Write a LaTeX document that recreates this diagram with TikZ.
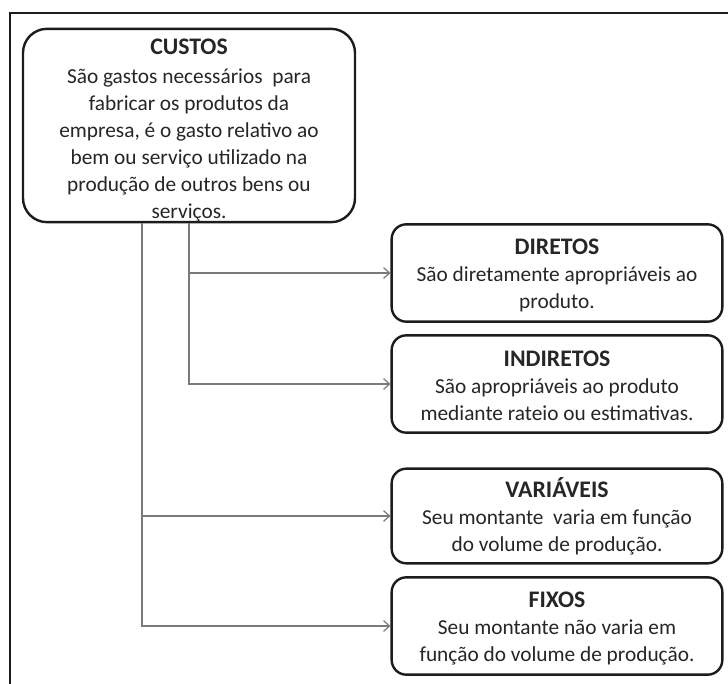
\documentclass[tikz,border=0pt]{standalone}
\usepackage{fontspec}
\setmainfont{Carlito}
\usetikzlibrary{arrows.meta}
\definecolor{ink}{HTML}{1C1C1C}
\definecolor{txt}{HTML}{262626}
\definecolor{conn}{HTML}{7A7A7A}
\newcommand{\ttl}[2][15pt]{{\fontsize{17.8}{20.2}\selectfont\bfseries\rule{0pt}{#1}#2}}
\tikzset{
  box/.style={draw=ink, line width=1.8pt, rounded corners=11pt, fill=white,
    align=center, text=txt, inner sep=0pt,
    font=\fontsize{16}{20.2}\selectfont},
  smallbox/.style={box, minimum width=248pt, minimum height=73pt},
  link/.style={draw=conn, line width=0.9pt, -{Straight Barb[length=4.5pt,width=8pt]}},
}
\begin{document}
\begin{tikzpicture}[x=0.75pt,y=-0.75pt]
\useasboundingbox (0,0) rectangle (728,684);
% outer frame (partial)
\draw[ink, line width=2.2pt] (10,684) -- (10,13) -- (728,13);

\node[box, rounded corners=18pt, minimum width=249pt, minimum height=145pt] (custos) at (189,125.5)
  {\ttl[19pt]{CUSTOS}\\[1.5pt]
   São gastos necessários\ \ para\\
   fabricar os produtos da\\
   empresa, é o gasto relativo ao\\
   bem ou serviço utilizado na\\
   produção de outros bens ou\\
   serviços.};

\node[smallbox] (diretos) at (557,273)
  {\ttl{DIRETOS}\\São diretamente apropriáveis ao\\produto.};
\node[smallbox] (indiretos) at (557,384)
  {\ttl{INDIRETOS}\\São apropriáveis ao produto\\mediante rateio ou estimativas.};
\node[smallbox, minimum height=71pt] (variaveis) at (557,516)
  {\ttl{VARIÁVEIS}\\Seu montante\ \ varia em função\\do volume de produção.};
\node[smallbox] (fixos) at (557,626)
  {\ttl{FIXOS}\\Seu montante não varia em\\função do volume de produção.};

\coordinate (c2) at ([xshift=-35.25pt]custos.south);

\draw[link] (custos.south) |- (diretos.west);
\draw[link] (custos.south) |- (indiretos.west);
\draw[link] (c2) |- (variaveis.west);
\draw[link] (c2) |- (fixos.west);
\end{tikzpicture}
\end{document}
